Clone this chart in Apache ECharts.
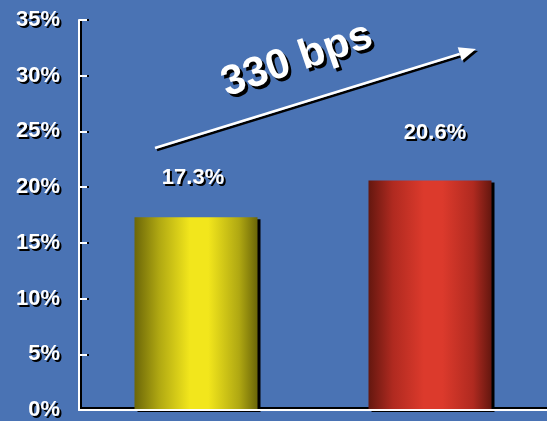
<!DOCTYPE html>
<html>
<head>
<meta charset="utf-8">
<script src="https://cdn.jsdelivr.net/npm/echarts@6/dist/echarts.min.js"></script>
<style>
html,body{margin:0;padding:0;background:#4a73b4;}
#c{width:547px;height:421px;}
</style>
</head>
<body>
<div id="c"></div>
<script>
var categories = ['A', 'B'];
var values = [17.3, 20.6];
var valueLabels = ['17.3%', '20.6%'];
var yTicks = [0, 5, 10, 15, 20, 25, 30, 35];
var annotationText = '330 bps';

var font = '"Liberation Sans", Arial, sans-serif';
var shadow = {textShadowColor: '#000', textShadowOffsetX: 2, textShadowOffsetY: 2, textShadowBlur: 0.6};

function grad(dark, mid, bright) {
  return {type: 'linear', x: 0, y: 0, x2: 1, y2: 0, colorStops: [
    {offset: 0, color: dark}, {offset: 0.2, color: mid}, {offset: 0.45, color: bright},
    {offset: 0.6, color: bright}, {offset: 0.85, color: mid}, {offset: 1, color: dark}]};
}
var barColors = [grad('#6b6608', '#b0a812', '#f2e61c'), grad('#64170f', '#b02a20', '#dc3a2c')];
var labelDist = [28, 37];
var labelOff = [[-3, 0], [5, 0]];

var chart = echarts.init(document.getElementById('c'));
var white = {color: '#fff', width: 2};
var black = {color: '#000', width: 2};

// arrow geometry (annotation)
var x1 = 155, y1 = 148, x2 = 476, y2 = 49;
var dx = x2 - x1, dy = y2 - y1, L = Math.sqrt(dx*dx + dy*dy), ux = dx / L, uy = dy / L;
var hl = 17, hw = 7;
var bx = x2 - ux*hl, by = y2 - uy*hl;
var head = [[x2, y2], [bx - uy*hw, by + ux*hw], [bx + uy*hw, by - ux*hw]];
function shift(p, s){ return p.map(function(q){return [q[0]+s, q[1]+s];}); }

var shadowShift = 2 * 35 / 392; // 2px expressed in value units, for the drop-shadow axis

chart.setOption({
  backgroundColor: '#4a73b4',
  animation: false,
  grid: {left: 79, top: 20, right: 0, bottom: 9, containLabel: false},
  xAxis: [{
    type: 'category', data: categories, z: 3,
    axisLine: {lineStyle: white},
    axisTick: {inside: true, length: 5, lineStyle: {color: '#fff', width: 1.5}},
    axisLabel: {show: false}
  }, {
    type: 'category', data: categories, position: 'bottom', offset: 2, z: 1,
    axisLine: {lineStyle: black},
    axisTick: {show: false},
    axisLabel: {show: false}
  }],
  yAxis: [{
    type: 'value', min: 0, max: 35, interval: 5, z: 3,
    axisLine: {show: true, lineStyle: white},
    axisTick: {show: true, inside: true, length: 8, lineStyle: white},
    splitLine: {show: false},
    axisLabel: Object.assign({
      color: '#fff', fontSize: 22, fontWeight: 'bold', fontFamily: font, margin: 19,
      formatter: function(v){ return yTicks.indexOf(v) >= 0 ? v + '%' : ''; }
    }, shadow)
  }, {
    type: 'value', min: -shadowShift, max: 35 - shadowShift, interval: 5, position: 'left', offset: -2, z: 1,
    axisLine: {show: true, lineStyle: black},
    axisTick: {show: true, inside: true, length: 8, lineStyle: black},
    splitLine: {show: false},
    axisLabel: {show: false}
  }],
  series: [{
    type: 'bar', barWidth: 123, xAxisIndex: 0, yAxisIndex: 0, z: 2,
    data: values.map(function(v, i){
      return {
        value: v,
        itemStyle: {color: barColors[i], shadowColor: '#000', shadowOffsetX: 3, shadowOffsetY: 2, shadowBlur: 0},
        label: Object.assign({show: true, position: 'top', distance: labelDist[i], offset: labelOff[i],
          formatter: valueLabels[i], color: '#fff', fontSize: 22, fontWeight: 'bold', fontFamily: font}, shadow)
      };
    })
  }],
  graphic: [
    {type: 'line', shape: {x1: x1+2, y1: y1+2, x2: bx+2, y2: by+2}, style: {stroke: '#000', lineWidth: 2.5}, z: 10},
    {type: 'polygon', shape: {points: shift(head, 2)}, style: {fill: '#000'}, z: 10},
    {type: 'line', shape: {x1: x1, y1: y1, x2: bx, y2: by}, style: {stroke: '#fff', lineWidth: 2.5}, z: 11},
    {type: 'polygon', shape: {points: head}, style: {fill: '#fff'}, z: 11},
    {type: 'text', x: 297, y: 60, rotation: 19 * Math.PI / 180, z: 12,
      style: {text: annotationText, fill: '#fff', font: 'bold 42px ' + font, align: 'center', verticalAlign: 'middle',
        textShadowColor: '#000', textShadowOffsetX: 3, textShadowOffsetY: 3, textShadowBlur: 0.6}}
  ]
});
</script>
</body>
</html>
